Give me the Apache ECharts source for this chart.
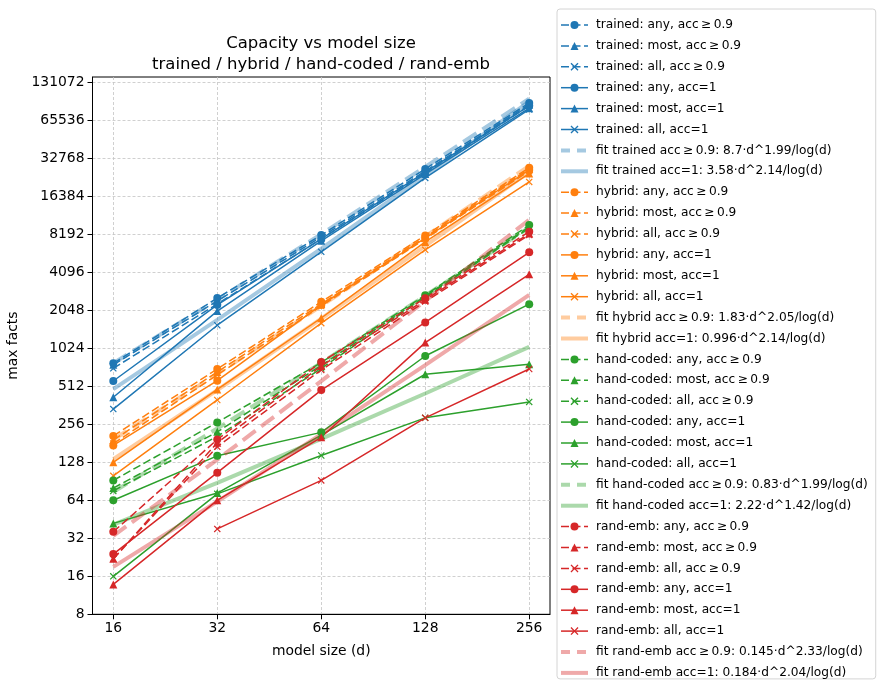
<!DOCTYPE html>
<html><head><meta charset="utf-8">
<script src="https://cdn.jsdelivr.net/npm/echarts@6/dist/echarts.min.js"></script>
<style>html,body{margin:0;padding:0;background:#fff}#c{width:889px;height:691px}</style>
</head><body><div id="c"></div>
<script>
// ---------- data ----------
const modelSizes = [16, 32, 64, 128, 256];
const xTickValues = [16, 32, 64, 128, 256];
const yTickValues = [8, 16, 32, 64, 128, 256, 512, 1024, 2048, 4096, 8192, 16384, 32768, 65536, 131072];

const trainedAny09  = [779, 2560, 8080, 27000, 89900];
const trainedMost09 = [757, 2430, 7800, 26000, 87600];
const trainedAll09  = [711, 2300, 7530, 25100, 85400];
const trainedAny1   = [564, 2260, 7530, 25500, 85400];
const trainedMost1  = [419, 2020, 7270, 24600, 81800];
const trainedAll1   = [338, 1560, 5950, 22900, 80000];
const fitTrained09  = [781, 2483, 8219, 27986, 97281];
const fitTrained1   = [487, 1718, 6311, 23844, 91960];

const hybridAny09  = [207, 702, 2390, 8030, 27600];
const hybridMost09 = [192, 665, 2300, 7800, 27000];
const hybridAll09  = [180, 630, 2215, 7530, 26000];
const hybridAny1   = [174, 567, 2260, 7650, 26500];
const hybridMost1  = [128, 484, 1780, 7130, 24800];
const hybridAll1   = [100, 399, 1620, 6170, 21300];
const fitHybrid09  = [194, 643, 2219, 7877, 28538];
const fitHybrid1   = [135.6, 478, 1756, 6634, 25584];

const handAny09  = [92, 265, 790, 2700, 9700];
const handMost09 = [80, 223, 750, 2650, 9400];
const handAll09  = [76, 205, 710, 2600, 9200];
const handAny1   = [64, 144, 221, 890, 2290];
const handMost1  = [42, 73, 210, 638, 766];
const handAll1   = [16, 72, 145, 288, 385];
const fitHand09  = [74.5, 237, 784, 2670, 9281];
const fitHand1   = [41, 87.9, 196, 449, 1052];

const randAny09  = [36, 194, 798, 2555, 8600];
const randMost09 = [22, 183, 740, 2480, 8300];
const randAll09  = [22, 170, 690, 2400, 8100];
const randAny1   = [24, 106, 478, 1640, 5900];
const randMost1  = [13.8, 64, 202, 1136, 3950];
const randAll1   = [null, 38, 92, 288, 702];
const fitRand09  = [33.4, 134.5, 563, 2428, 10682];
const fitRand1   = [19, 62.5, 214, 754, 2715];

// ---------- styling ----------
const FONT = 'DejaVu Sans';
const COLORS = { trained: '#1f77b4', hybrid: '#ff7f0e', hand: '#2ca02c', rand: '#d62728' };
const XMARK = 'path://M0,1.2L1.2,0L5,3.8L8.8,0L10,1.2L6.2,5L10,8.8L8.8,10L5,6.2L1.2,10L0,8.8L3.8,5Z';
const GE = 'acc\u2009\u2265\u20090.9';

function pts(vals) {
  const out = [];
  modelSizes.forEach((d, i) => { if (vals[i] != null) out.push([d, vals[i]]); });
  return out;
}
function dataSeries(name, vals, color, shape, dashed) {
  const sym = shape === 'o' ? 'circle' : shape === '^' ? 'triangle' : XMARK;
  const size = shape === 'o' ? 8 : shape === '^' ? 8 : 7;
  return {
    type: 'line', name: name, data: pts(vals), symbol: sym, symbolSize: size,
    showAllSymbol: true, connectNulls: true,
    lineStyle: { color: color, width: 1.5, type: dashed ? [8, 3.5] : 'solid' },
    itemStyle: { color: color, opacity: 1 },
    emphasis: { disabled: true }, silent: true, animation: false
  };
}
function fitSeries(name, vals, color, dashed) {
  return {
    type: 'line', name: name, data: pts(vals), symbol: 'circle', showSymbol: false,
    lineStyle: { color: color, width: 4, opacity: 0.4, type: dashed ? [16, 7] : 'solid' },
    itemStyle: { color: color, opacity: 0 },
    emphasis: { disabled: true }, silent: true, animation: false
  };
}

const groups = [
  ['trained', 'trained', COLORS.trained, [trainedAny09, trainedMost09, trainedAll09, trainedAny1, trainedMost1, trainedAll1], fitTrained09, fitTrained1,
    'fit trained ' + GE + ': 8.7\u00b7d^1.99/log(d)', 'fit trained acc=1: 3.58\u00b7d^2.14/log(d)'],
  ['hybrid', 'hybrid', COLORS.hybrid, [hybridAny09, hybridMost09, hybridAll09, hybridAny1, hybridMost1, hybridAll1], fitHybrid09, fitHybrid1,
    'fit hybrid ' + GE + ': 1.83\u00b7d^2.05/log(d)', 'fit hybrid acc=1: 0.996\u00b7d^2.14/log(d)'],
  ['hand', 'hand-coded', COLORS.hand, [handAny09, handMost09, handAll09, handAny1, handMost1, handAll1], fitHand09, fitHand1,
    'fit hand-coded ' + GE + ': 0.83\u00b7d^1.99/log(d)', 'fit hand-coded acc=1: 2.22\u00b7d^1.42/log(d)'],
  ['rand', 'rand-emb', COLORS.rand, [randAny09, randMost09, randAll09, randAny1, randMost1, randAll1], fitRand09, fitRand1,
    'fit rand-emb ' + GE + ': 0.145\u00b7d^2.33/log(d)', 'fit rand-emb acc=1: 0.184\u00b7d^2.04/log(d)']
];
const kinds = [['any', 'o', true], ['most', '^', true], ['all', 'x', true], ['any', 'o', false], ['most', '^', false], ['all', 'x', false]];

const series = [];
const legendItems = [];
groups.forEach(g => {
  const [, label, color, arrs, f09, f1, fn09, fn1] = g;
  kinds.forEach((k, i) => {
    const name = label + ': ' + k[0] + ', ' + (k[2] ? GE : 'acc=1');
    series.push(dataSeries(name, arrs[i], color, k[1], k[2]));
    legendItems.push({ name: name, lineStyle: { width: 1.5 } });
  });
  series.push(fitSeries(fn09, f09, color, true));
  legendItems.push({ name: fn09, lineStyle: { width: 4, type: [9, 7] } });
  series.push(fitSeries(fn1, f1, color, false));
  legendItems.push({ name: fn1, lineStyle: { width: 4 } });
});

const chart = echarts.init(document.getElementById('c'), null, { renderer: 'canvas' });
const gridLine = { show: true, lineStyle: { color: '#c4c4c4', width: 0.8, type: [3, 2] } };
chart.setOption({
  animation: false,
  backgroundColor: '#fff',
  title: {
    text: 'Capacity vs model size\ntrained / hybrid / hand-coded / rand-emb',
    left: 316, top: 28, textAlign: 'center',
    textStyle: { fontFamily: FONT, fontSize: 16.5, fontWeight: 'normal', color: '#000', lineHeight: 21 }
  },
  grid: { left: 92.5, right: 339, top: 77, bottom: 76.7, show: true, borderColor: '#000', borderWidth: 1, containLabel: false, outerBoundsMode: 'none' },
  xAxis: {
    type: 'log', logBase: 2, min: Math.pow(2, 3.8), max: Math.pow(2, 8.2),
    name: 'model size (d)', nameLocation: 'middle', nameGap: 30,
    nameTextStyle: { fontFamily: FONT, fontSize: 13.9, color: '#000' },
    axisLine: { show: true, lineStyle: { color: '#000', width: 1 } },
    axisTick: { show: true, length: 5, lineStyle: { color: '#000', width: 1 }, customValues: xTickValues },
    axisLabel: { customValues: xTickValues, fontFamily: FONT, fontSize: 13.9, color: '#000', margin: 7, formatter: v => String(Math.round(v)) },
    splitLine: gridLine, minorTick: { show: false }, minorSplitLine: { show: false }
  },
  yAxis: {
    type: 'log', logBase: 2, min: 8, max: Math.pow(2, 17.14), splitNumber: 15,
    name: 'max facts', nameLocation: 'middle', nameGap: 64, nameRotate: 90,
    nameTextStyle: { fontFamily: FONT, fontSize: 13.9, color: '#000' },
    axisLine: { show: true, lineStyle: { color: '#000', width: 1 } },
    axisTick: { show: true, length: 5, lineStyle: { color: '#000', width: 1 }, customValues: yTickValues },
    axisLabel: { customValues: yTickValues, fontFamily: FONT, fontSize: 13.9, color: '#000', margin: 8, formatter: v => String(Math.round(v)) },
    splitLine: gridLine, minorTick: { show: false }, minorSplitLine: { show: false }
  },
  legend: {
    orient: 'vertical', left: 557, top: 9, padding: [10, 8, 0, 2],
    itemWidth: 27, itemHeight: 10, itemGap: 8.9,
    backgroundColor: '#fff', borderColor: '#d4d4d4', borderWidth: 1, borderRadius: 3,
    textStyle: { fontFamily: FONT, fontSize: 12.2, color: '#000', padding: [0, 0, 0, 3] },
    selectedMode: false, data: legendItems
  },
  series: series
});
</script>
</body></html>
